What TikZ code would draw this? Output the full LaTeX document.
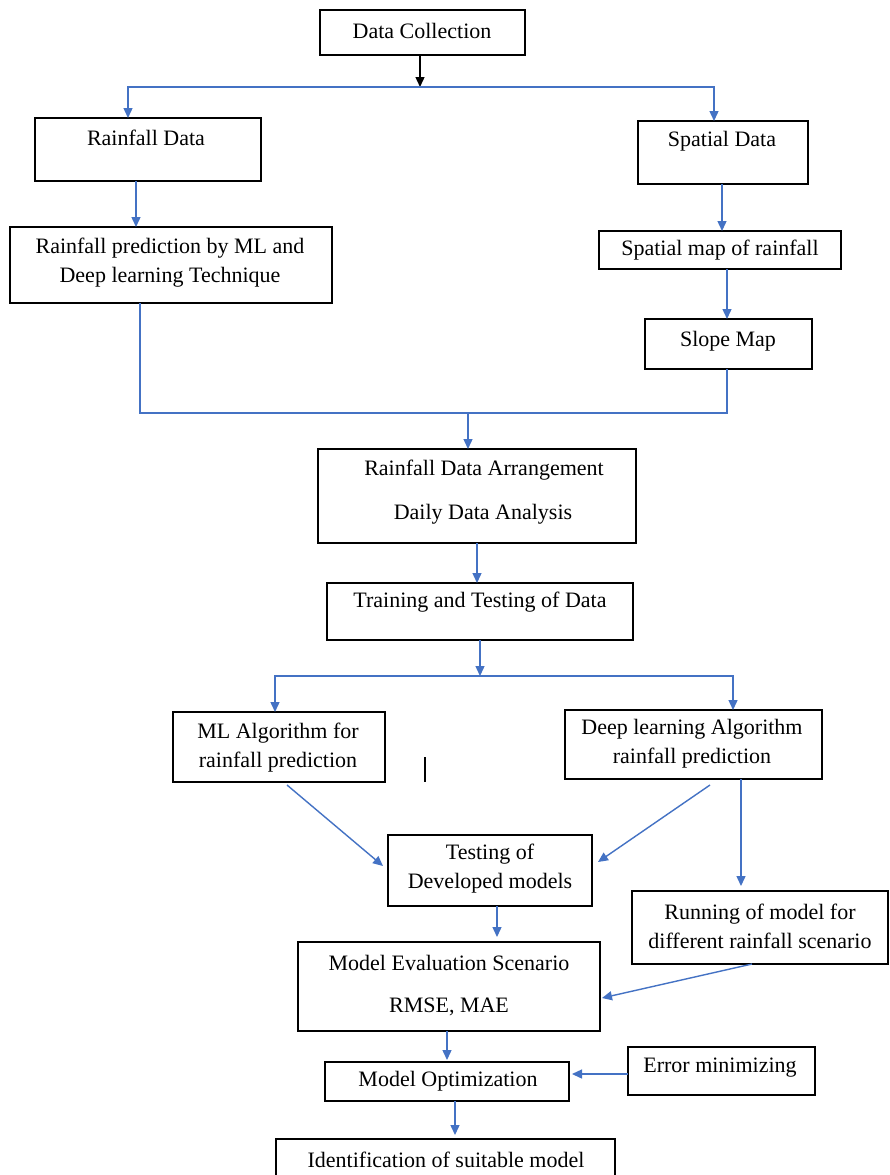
\documentclass[tikz,border=0pt]{standalone}
\usepackage{fontspec}
\setmainfont{Liberation Serif}
\usetikzlibrary{arrows.meta,calc}
\definecolor{lblue}{HTML}{4472C4}
\begin{document}
\begin{tikzpicture}[x=1pt,y=-1pt,
  box/.style={draw=black,line width=1.4pt,inner sep=0pt,outer sep=0pt},
  txt/.style={font=\fontsize{22}{29}\selectfont,align=center,inner sep=0pt},
  arr/.style={draw=lblue,line width=1.4pt,-{Triangle[length=10pt,width=9pt]}},
  ln/.style={draw=lblue,line width=1.4pt},
  barr/.style={draw=black,line width=1.4pt,-{Triangle[length=10pt,width=9pt]}}]
\useasboundingbox[fill=white] (0,0) rectangle (889,1175);
% boxes
\node[box,minimum width=205,minimum height=45] (dc) at (422.5,32.5) {};
\node[box,minimum width=226,minimum height=63] (rd) at (148,149.5) {};
\node[box,minimum width=170,minimum height=63] (sd) at (723,152.5) {};
\node[box,minimum width=322,minimum height=76] (rp) at (171,265) {};
\node[box,minimum width=242,minimum height=38] (sm) at (720,250) {};
\node[box,minimum width=167,minimum height=50] (slm) at (728.5,344) {};
\node[box,minimum width=318,minimum height=94] (rda) at (477,496) {};
\node[box,minimum width=306,minimum height=57] (tt) at (480,611.5) {};
\node[box,minimum width=212,minimum height=70] (ml) at (279,747) {};
\node[box,minimum width=257,minimum height=69] (dl) at (693.5,744.5) {};
\node[box,minimum width=204,minimum height=71] (td) at (490,870.5) {};
\node[box,minimum width=256,minimum height=73] (run) at (760,927.5) {};
\node[box,minimum width=302,minimum height=89] (me) at (449,986.5) {};
\node[box,minimum width=244,minimum height=39] (mo) at (447,1081.5) {};
\node[box,minimum width=187,minimum height=48] (em) at (721.5,1071) {};
\node[box,minimum width=339,minimum height=51] (id) at (445.5,1164.5) {};
% texts
\node[txt] (t1) at (422,31) {Data Collection};
\node[txt] (t2) at (146,138) {Rainfall Data};
\node[txt] (t3) at (722,141) {Spatial Data};
\node[txt] (t4) at (170,262.5) {Rainfall prediction by ML and\\Deep learning Technique};
\node[txt] (t5) at (720,250) {Spatial map of rainfall};
\node[txt] (t6) at (728,341) {Slope Map};
\node[txt] (t7) at (484,470) {Rainfall Data Arrangement};
\node[txt] (t8) at (483,514) {Daily Data Analysis};
\node[txt] (t9) at (480,602) {Training and Testing of Data};
\node[txt] (t10) at (278,747.5) {ML Algorithm for\\rainfall prediction};
\node[txt] (t11) at (692,744) {Deep learning Algorithm\\rainfall prediction};
\node[txt] (t12) at (490,869) {Testing of\\Developed models};
\node[txt] (t13) at (760,926) {Running of model for\\different rainfall scenario};
\node[txt] (t14) at (449,963) {Model Evaluation Scenario};
\node[txt] (t15) at (449,1007) {RMSE, MAE};
\node[txt] (t16) at (448,1081) {Model Optimization};
\node[txt] (t17) at (720,1068) {Error minimizing};
\node[txt] (t18) at (446,1160) {Identification of suitable model};
% junctions
\coordinate (j1) at (420,87);
\coordinate (j2) at (468,413);
\coordinate (j3) at (480,676);
% connectors
\draw[barr] (dc.south -| j1) -- (j1);
\draw[arr] (j1) -| (rd.north -| 128,0);
\draw[arr] (j1) -| (sd.north -| 714,0);
\draw[arr] (rd.south -| 136,0) -- (rp.north -| 136,0);
\draw[arr] (sd.south -| 722,0) -- (sm.north -| 722,0);
\draw[arr] (sm.south -| 727,0) -- (slm.north -| 727,0);
\draw[ln] (rp.south -| 140,0) |- (j2) -| (slm.south -| 727,0);
\draw[arr] (j2) -- (rda.north -| j2);
\draw[arr] (rda.south -| 477,0) -- (tt.north -| 477,0);
\draw[arr] (tt.south -| j3) -- (j3);
\draw[arr] (j3) -| (ml.north -| 275,0);
\draw[arr] (j3) -| (dl.north -| 733,0);
\draw[arr] ($(ml.south -| 287,0)+(0,3)$) -- ($(td.west)+(-5,-4.5)$);
\draw[arr] ($(dl.south -| 710,0)+(0,6)$) -- ($(td.east)+(6,-8.5)$);
\draw[arr] (dl.south -| 741,0) -- ($(run.north -| 741,0)+(0,-5)$);
\draw[arr] (td.south -| 497,0) -- ($(me.north -| 497,0)+(0,-5)$);
\draw[arr] (run.south -| 752,0) -- ($(me.east)+(2,11.5)$);
\draw[arr] (me.south -| 447,0) -- ($(mo.north -| 447,0)+(0,-2)$);
\draw[arr] (em.west |- 0,1074) -- ($(mo.east |- 0,1074)+(3,0)$);
\draw[arr] (mo.south -| 455,0) -- ($(id.north -| 455,0)+(0,-4)$);
% stray mark
\draw[black,line width=1.4pt] (425,757) -- (425,782);
\end{tikzpicture}
\end{document}
